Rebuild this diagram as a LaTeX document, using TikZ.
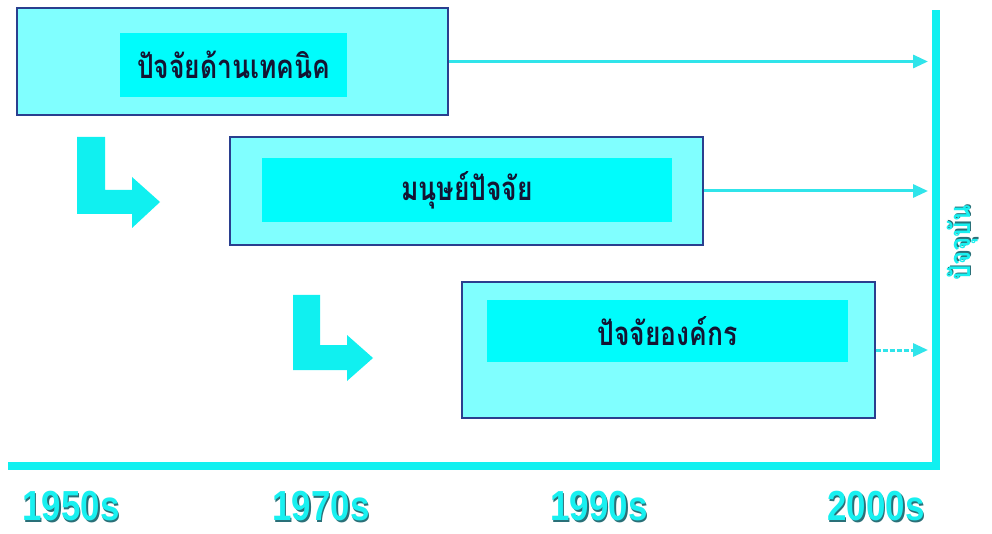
\documentclass[tikz,border=0pt]{standalone}
\usepackage{fontspec}
\setmainfont{Liberation Sans}
\newfontfamily\thaifont[Script=Thai]{Loma}
\usetikzlibrary{arrows.meta}
\definecolor{outerfill}{HTML}{80FFFF}
\definecolor{innerfill}{HTML}{00FCFC}
\definecolor{boxborder}{HTML}{2A3F8F}
\definecolor{linecyan}{HTML}{10F0F0}
\definecolor{arrowcyan}{HTML}{30E4EA}
\definecolor{txtdark}{HTML}{141432}
\definecolor{yearshadow}{HTML}{2A7078}
\definecolor{yearcyan}{HTML}{18F0F0}
\newcommand\yeartext[1]{\scalebox{0.83}[1]{\makebox[0pt][l]{\hspace{1.6pt}\raisebox{-1.6pt}{\color{yearshadow}#1}}{\color{yearcyan}#1}}}
\newcommand\thaitxt[1]{\scalebox{0.8}[1]{#1}}
\tikzset{
  outerbox/.style={draw=boxborder, line width=1.2pt, fill=outerfill, inner sep=0pt},
  innerbox/.style={fill=innerfill, inner sep=0pt, text=txtdark, font=\thaifont\bfseries\fontsize{33}{33}\selectfont},
  flowarrow/.style={draw=arrowcyan, line width=3pt, -{Triangle[length=15pt,width=13pt]}, shorten >=8pt},
  larrow/.style={fill=linecyan, draw=none},
  axisline/.style={draw=linecyan, line width=7.5pt},
  yearlabel/.style={font=\bfseries\fontsize{42}{42}\selectfont, inner sep=0pt},
  nowlabel/.style={font=\thaifont\bfseries\fontsize{29}{29}\selectfont, inner sep=0pt, rotate=90}
}
\begin{document}
\begin{tikzpicture}[x=1pt,y=-1pt]
\useasboundingbox[fill=white] (0,0) rectangle (992,534);
% axis
\coordinate (axtop) at (936,10);
\coordinate (corner) at (936,466);
\coordinate (axleft) at (8,466);
\draw[axisline, line join=miter] (axleft) -- (corner) -- (axtop);
% boxes
\node[outerbox, minimum width=431pt, minimum height=107pt] (b1) at (232.5,61.5) {};
\node[innerbox, minimum width=227pt, minimum height=64pt] (i1) at (233.5,65) {\thaitxt{ปัจจัยด้านเทคนิค}};
\node[outerbox, minimum width=473pt, minimum height=108pt] (b2) at (466.5,191) {};
\node[innerbox, minimum width=410pt, minimum height=64pt] (i2) at (467,190) {\thaitxt{มนุษย์ปัจจัย}};
\node[outerbox, minimum width=413pt, minimum height=136pt] (b3) at (668.5,350) {};
\node[innerbox, minimum width=361pt, minimum height=62pt] (i3) at (667.5,331) {\thaitxt{ปัจจัยองค์กร}};
% arrows to present
\draw[flowarrow] (b1.east) -- (b1.east -| axtop);
\draw[flowarrow] (b2.east) -- (b2.east -| axtop);
\draw[flowarrow, dash pattern=on 5pt off 2pt] (b3.east) -- (b3.east -| axtop);
% L arrows
\fill[larrow] (77,137) -- (105,137) -- (105,190) -- (132,190) -- (132,177) -- (160,202) -- (132,228) -- (132,214) -- (77,214) -- cycle;
\fill[larrow] (293,295) -- (320,295) -- (320,345) -- (347,345) -- (347,335) -- (373,358) -- (347,381) -- (347,370) -- (293,370) -- cycle;
% labels
\node[yearlabel] (y1) at (71,507) {\yeartext{1950s}};
\node[yearlabel] (y2) at (321,507) {\yeartext{1970s}};
\node[yearlabel] (y3) at (599,507) {\yeartext{1990s}};
\node[yearlabel] (y4) at (876,507) {\yeartext{2000s}};
\node[nowlabel] (now) at (963,243) {\yeartext{ปัจจุบัน}};
\end{tikzpicture}
\end{document}
